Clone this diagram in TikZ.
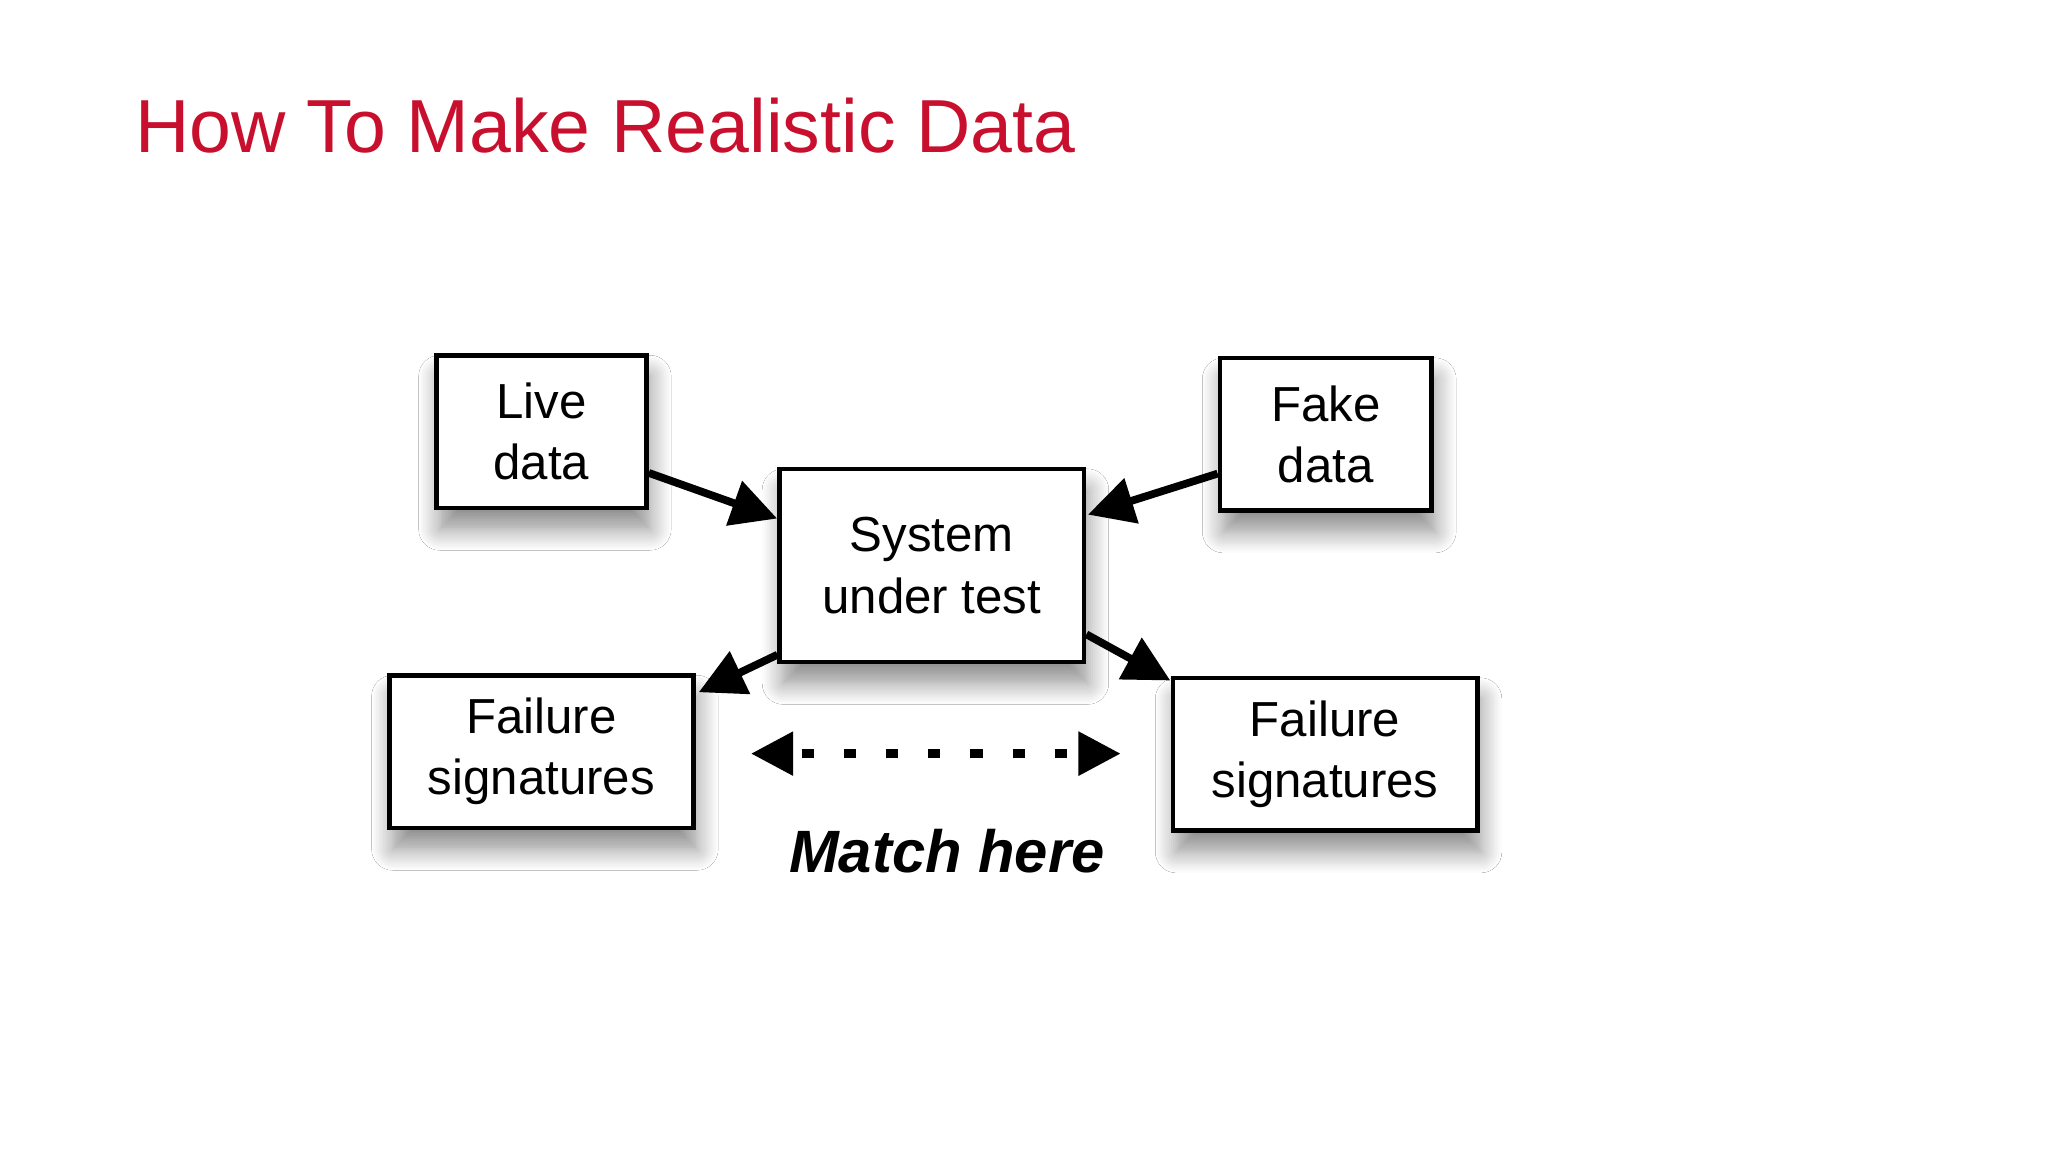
\documentclass[tikz,border=0pt]{standalone}
\usepackage{fontspec}
\setmainfont{Liberation Sans}
\usetikzlibrary{arrows.meta,shadows.blur}
\definecolor{titlered}{RGB}{200,16,46}
\begin{document}
\begin{tikzpicture}[x=0.01306cm,y=-0.01306cm,
  box/.style={draw,line width=1.3pt,fill=white,align=center,inner sep=0pt,
    font=\fontsize{14}{17.4}\selectfont,
    blur shadow={shadow xshift=1pt,shadow yshift=-6pt,shadow blur steps=10,shadow blur radius=6pt,shadow opacity=45}},
  arr/.style={line width=2.2pt,-{Triangle[length=13pt,width=13pt]}}]
\useasboundingbox[fill=white] (0,0) rectangle (1568,882);
\node[anchor=base west,text=titlered,font=\fontsize{21.4}{26}\selectfont] (title) at (94,117) {How To Make Realistic Data};
\node[box,minimum width=161*0.01306cm,minimum height=117*0.01306cm] (live) at (414.5,330.5) {Live\\data};
\node[box,minimum width=162*0.01306cm,minimum height=117*0.01306cm] (fake) at (1015,332.5) {Fake\\data};
\node[box,minimum width=233*0.01306cm,minimum height=148*0.01306cm] (sys) at (713.5,433) {System\\under test};
\node[box,minimum width=233*0.01306cm,minimum height=117*0.01306cm] (fl) at (414.5,575.5) {Failure\\signatures};
\node[box,minimum width=233*0.01306cm,minimum height=117*0.01306cm] (fr) at (1014.5,577.5) {Failure\\signatures};
\coordinate (a1) at (595,397);
\coordinate (a2) at (833,394);
\coordinate (a3) at (535,530);
\coordinate (a4) at (896,521);
\coordinate (dl) at (575,577);
\coordinate (dr) at (858,577);
\draw[arr] (live.-21) -- (a1);
\draw[arr] (fake.200) -- (a2);
\draw[arr] (sys.210) -- (a3);
\draw[arr] (sys.-24) -- (a4);
\draw[line width=2.4pt,dash pattern=on 3.5pt off 8.5pt,dash phase=-3pt,{Triangle[length=12pt,width=12pt]}-{Triangle[length=12pt,width=12pt]}] (dl) -- (dr);
\node[font=\fontsize{17}{20}\selectfont\bfseries\itshape] (match) at (725,652) {Match here};
\end{tikzpicture}
\end{document}
